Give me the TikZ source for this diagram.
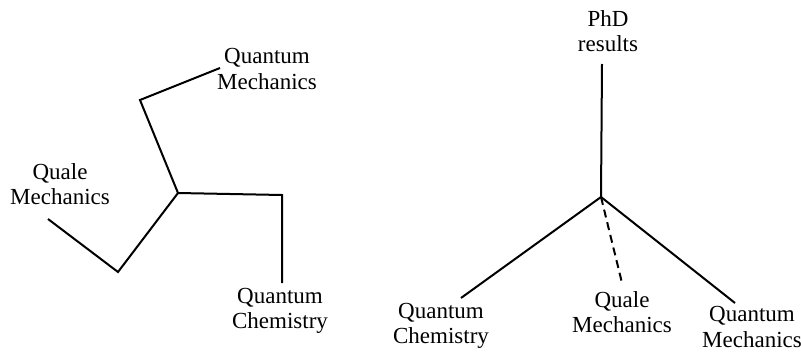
\documentclass[tikz,border=0pt]{standalone}
\usepackage{fontspec}
\setmainfont{Liberation Serif}
\usetikzlibrary{calc, positioning}

\begin{document}
\begin{tikzpicture}[x=1pt, y=-1pt]
\tikzset{lbl/.style={align=center, inner sep=0pt, font=\fontsize{23}{25.5}\selectfont}}
\useasboundingbox (0,0) rectangle (801,351);
% left tree
\coordinate (J) at (178,193);
\coordinate (Jqm) at (140,100);
\coordinate (Jqc) at (282,195);
\coordinate (Jql) at (118,272);
\node[lbl] (lqm) at (267,69) {Quantum\\Mechanics};
\node[lbl] (lqc) at (280,311) {Quantum\\Chemistry};
\node[lbl] (lql) at (60,184) {Quale\\Mechanics};
\coordinate (Eqm) at (220,68);
\coordinate (Eqc) at (282,283);
\coordinate (Eql) at (48,219);
\draw[line width=2pt] (J) -- (Jqm) -- (Eqm);
\draw[line width=2pt] (J) -- (Jqc) -- (Eqc);
\draw[line width=2pt] (J) -- (Jql) -- (Eql);
% right tree
\coordinate (K) at (601,197);
\node[lbl] (phd) at (608,31) {PhD\\results};
\node[lbl] (rqc) at (441,326) {Quantum\\Chemistry};
\node[lbl] (rql) at (622,312) {Quale\\Mechanics};
\node[lbl] (rqm) at (752,327) {Quantum\\Mechanics};
\coordinate (Fphd) at (602,64);
\coordinate (Fqc) at (461,298);
\coordinate (Fql) at (622,283);
\coordinate (Fqm) at (735,303);
\draw[line width=2pt] (K) -- (Fphd);
\draw[line width=2pt] (K) -- (Fqc);
\draw[line width=2pt] (K) -- (Fqm);
\draw[line width=2pt, dash pattern=on 8pt off 5pt] (K) -- (Fql);
\end{tikzpicture}
\end{document}
